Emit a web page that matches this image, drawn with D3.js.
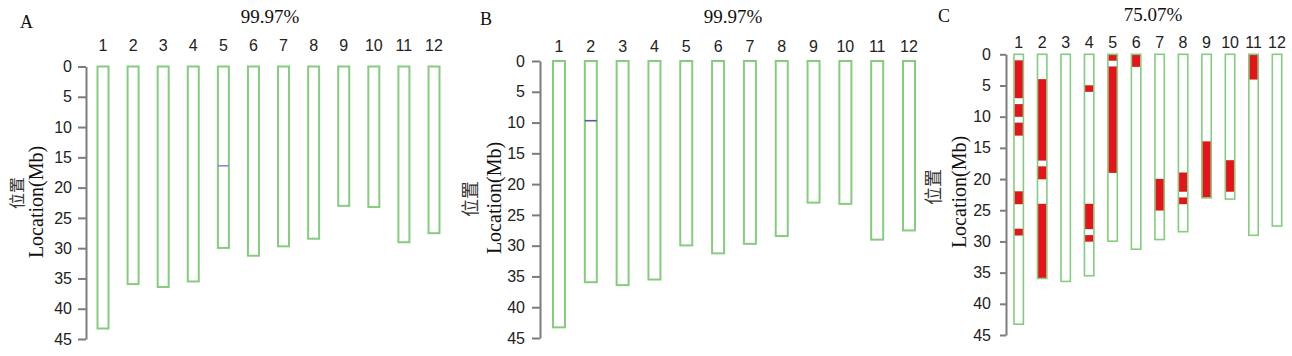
<!DOCTYPE html>
<html><head><meta charset="utf-8">
<script src="https://cdn.jsdelivr.net/npm/d3@7"></script>
<style>body{margin:0;background:#fff} svg{display:block}</style>
</head><body>
<svg id="chart" width="1292" height="356"></svg>
<script>
// ---------- data ----------
const chromosomes = ["1","2","3","4","5","6","7","8","9","10","11","12"];
const chrLengths = [43.27, 35.94, 36.41, 35.50, 29.96, 31.25, 29.70, 28.44, 23.01, 23.21, 29.02, 27.53];
const yTicks = [0, 5, 10, 15, 20, 25, 30, 35, 40, 45];
const panelLetters = ["A", "B", "C"];
const panelTitles = ["99.97%", "99.97%", "75.07%"];
const yLabelCN = "位置";
const yLabelEN = "Location(Mb)";
// single heterozygous / marker positions (Mb)
const markersA = [{chr: "5", pos: 16.4}];
const markersB = [{chr: "2", pos: 9.7}];
const markersC = [];
// donor segments (Mb)
const segmentsA = [];
const segmentsB = [];
const segmentsC = [
  {chr: "1", start: 1, end: 7}, {chr: "1", start: 8, end: 10}, {chr: "1", start: 11, end: 13},
  {chr: "1", start: 22, end: 24}, {chr: "1", start: 28, end: 29},
  {chr: "2", start: 4, end: 17}, {chr: "2", start: 18, end: 20}, {chr: "2", start: 24, end: 35.94},
  {chr: "4", start: 5, end: 6}, {chr: "4", start: 24, end: 28}, {chr: "4", start: 29, end: 30},
  {chr: "5", start: 0, end: 1}, {chr: "5", start: 2, end: 19},
  {chr: "6", start: 0, end: 2},
  {chr: "7", start: 20, end: 25},
  {chr: "8", start: 19, end: 22}, {chr: "8", start: 23, end: 24},
  {chr: "9", start: 14, end: 23.01},
  {chr: "10", start: 17, end: 22},
  {chr: "11", start: 0, end: 4}
];

// ---------- layout ----------
const layouts = [
  {axisX: 86, yTop: 66.5, yBot: 339, xFirst: 103, xLast: 434, boxW: 13, sw: 2,
   tickSize: 8, tickPad: 6, tickFont: 16, chrLabelY: 51, chrFont: 16,
   titleX: 270, titleY: 23, letterX: 20, letterY: 28,
   cnX: 23, cnY: 193, cnFont: 16, enX: 43, enY: 202,
   markerColor: "#8a86dc", markers: markersA, segments: segmentsA},
  {axisX: 540, yTop: 61, yBot: 338, xFirst: 559, xLast: 909, boxW: 14, sw: 2,
   tickSize: 8, tickPad: 7, tickFont: 16, chrLabelY: 52, chrFont: 16,
   titleX: 733, titleY: 23, letterX: 480, letterY: 25,
   cnX: 477, cnY: 199, cnFont: 18, enX: 501, enY: 198,
   markerColor: "#5a52b8", markers: markersB, segments: segmentsB},
  {axisX: 1006, yTop: 54.3, yBot: 335, xFirst: 1018.7, xLast: 1277, boxW: 11, sw: 1.6,
   tickSize: 6, tickPad: 9, tickFont: 16, chrLabelY: 48, chrFont: 16,
   titleX: 1153, titleY: 21, letterX: 938, letterY: 22,
   cnX: 940, cnY: 187, cnFont: 18, enX: 966, enY: 192,
   markerColor: "#5a52b8", markers: markersC, segments: segmentsC}
];

const svg = d3.select("#chart");
const green = "#86cc7e";
const red = "#e8121a";
const axisGray = "#7c7c7c";
const sans = "'Liberation Sans', Arial, sans-serif";
const serif = "'Liberation Serif', 'Times New Roman', serif";

layouts.forEach((L, pi) => {
  const g = svg.append("g");
  const y = d3.scaleLinear().domain([0, 45]).range([L.yTop, L.yBot]);
  const x = d3.scalePoint().domain(chromosomes).range([L.xFirst, L.xLast]);

  // axis
  const ax = g.append("g")
    .attr("transform", `translate(${L.axisX},0)`)
    .call(d3.axisLeft(y).tickValues(yTicks).tickSize(L.tickSize).tickSizeOuter(0).tickPadding(L.tickPad));
  ax.select(".domain").attr("stroke", axisGray).attr("stroke-width", 2);
  ax.selectAll(".tick line").attr("stroke", axisGray).attr("stroke-width", 2);
  ax.selectAll(".tick text").attr("fill", "#222").style("font-family", sans).style("font-size", L.tickFont + "px");

  // chromosome labels
  g.selectAll(".chrlab").data(chromosomes).enter().append("text")
    .attr("x", d => x(d)).attr("y", L.chrLabelY)
    .attr("text-anchor", "middle").attr("fill", "#222")
    .style("font-family", sans).style("font-size", L.chrFont + "px")
    .text(d => d);

  // segments (drawn inside the boxes)
  const inner = L.boxW - 2 * L.sw;
  g.selectAll(".seg").data(L.segments).enter().append("rect")
    .attr("x", d => x(d.chr) - inner / 2 - 0.4)
    .attr("width", inner + 0.8)
    .attr("y", d => y(d.start))
    .attr("height", d => y(d.end) - y(d.start))
    .attr("fill", red).attr("stroke", "#b8241c").attr("stroke-width", 0.4);

  // chromosome boxes
  g.selectAll(".chr").data(chromosomes).enter().append("rect")
    .attr("x", d => x(d) - (L.boxW - L.sw) / 2)
    .attr("width", L.boxW - L.sw)
    .attr("y", y(0))
    .attr("height", (d, i) => y(chrLengths[i]) - y(0))
    .attr("fill", "none").attr("stroke", green).attr("stroke-width", L.sw);

  // markers
  g.selectAll(".mk").data(L.markers).enter().append("line")
    .attr("x1", d => x(d.chr) - L.boxW / 2 + L.sw / 2)
    .attr("x2", d => x(d.chr) + L.boxW / 2 - L.sw / 2)
    .attr("y1", d => y(d.pos)).attr("y2", d => y(d.pos))
    .attr("stroke", L.markerColor).attr("stroke-width", 1.6);

  // title
  g.append("text").attr("x", L.titleX).attr("y", L.titleY)
    .attr("text-anchor", "middle").attr("fill", "#111")
    .style("font-family", serif).style("font-size", "19px")
    .text(panelTitles[pi]);

  // panel letter
  g.append("text").attr("x", L.letterX).attr("y", L.letterY)
    .attr("fill", "#111")
    .style("font-family", serif).style("font-size", "18px")
    .text(panelLetters[pi]);

  // y axis labels
  g.append("text")
    .attr("transform", `translate(${L.cnX},${L.cnY}) rotate(-90)`)
    .attr("text-anchor", "middle").attr("fill", "#333")
    .style("font-family", "'Noto Sans CJK SC', sans-serif").style("font-size", L.cnFont + "px")
    .text(yLabelCN);
  g.append("text")
    .attr("transform", `translate(${L.enX},${L.enY}) rotate(-90)`)
    .attr("text-anchor", "middle").attr("fill", "#111")
    .style("font-family", serif).style("font-size", "20px")
    .text(yLabelEN);
});
</script>
</body></html>
